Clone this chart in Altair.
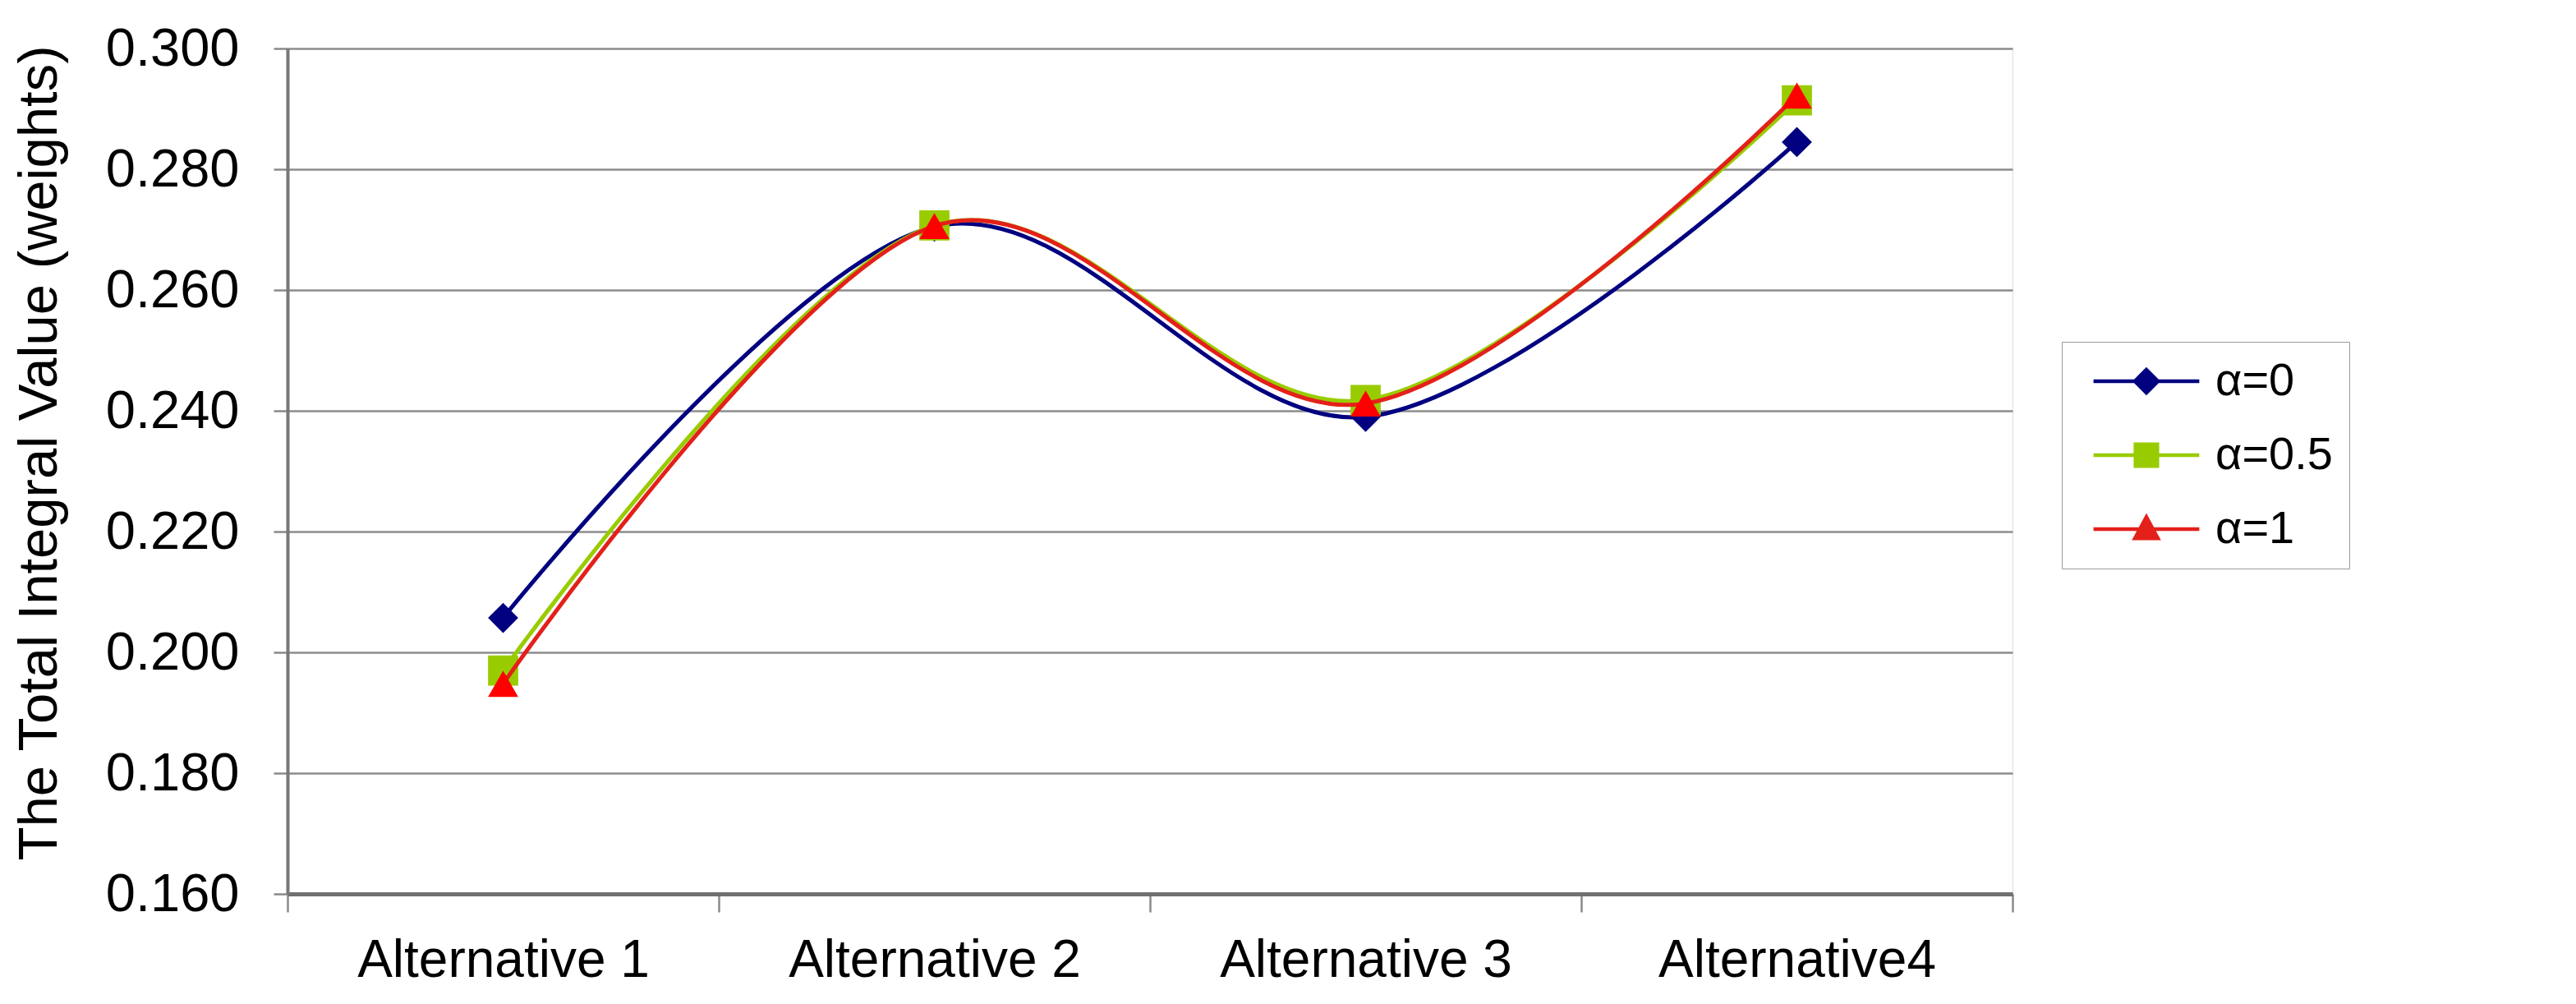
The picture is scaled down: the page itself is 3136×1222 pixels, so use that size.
import altair as alt
import pandas as pd

categories = ["Alternative 1", "Alternative 2", "Alternative 3", "Alternative4"]
series_names = ["α=0", "α=0.5", "α=1"]
alpha_0 = [0.2057, 0.2705, 0.2390, 0.2845]
alpha_05 = [0.1970, 0.2707, 0.2418, 0.2914]
alpha_1 = [0.1948, 0.2706, 0.2412, 0.2922]
y_ticks = [0.16, 0.18, 0.20, 0.22, 0.24, 0.26, 0.28, 0.30]

marker_colors = ["#000080", "#99CC00", "#FF0000"]
line_colors = ["#000080", "#99CC00", "#E3201A"]
shapes = ["diamond", "square", "triangle-up"]
legend_paths = [
    "M-4.6,0H4.6M0,-1L1,0L0,1L-1,0Z",
    "M-4.6,0H4.6M-0.95,-0.95H0.95V0.95H-0.95Z",
    "M-4.6,0H4.6M0,-1.05L1,0.8L-1,0.8Z",
]

FONT = "Liberation Sans"

x_enc = alt.X(
    "alt:N",
    sort=categories,
    scale=alt.Scale(domain=categories, paddingInner=0, paddingOuter=0),
    axis=alt.Axis(
        title=None,
        tickBand="extent",
        labelAngle=0,
        labelLimit=0,
        labelFont=FONT,
        labelFontSize=64,
        labelColor="#000000",
        labelPadding=27,
        tickSize=22,
        tickColor="#8a8a8a",
        tickWidth=2.5,
        domainColor="#707070",
        domainWidth=5,
        grid=False,
    ),
)
y_enc = alt.Y(
    "value:Q",
    scale=alt.Scale(domain=[0.16, 0.30], nice=False, zero=False),
    axis=alt.Axis(
        values=y_ticks,
        format=".3f",
        title="The Total Integral Value (weights)",
        titleFont=FONT,
        titleFontSize=67,
        titleFontWeight="normal",
        titleColor="#000000",
        titleX=-302,
        titleY=492,
        titleAngle=-90,
        titleBaseline="middle",
        titleAlign="center",
        labelFont=FONT,
        labelFontSize=65,
        labelColor="#000000",
        labelPadding=42,
        tickSize=17,
        tickColor="#8a8a8a",
        tickWidth=2.5,
        domainColor="#777777",
        domainWidth=4,
        grid=True,
        gridColor="#8c8c8c",
        gridWidth=2.5,
    ),
)

layers = []
for name, vals, lc, mc, shp in zip(series_names, [alpha_0, alpha_05, alpha_1],
                                   line_colors, marker_colors, shapes):
    df = pd.DataFrame({"alt": categories, "value": vals, "series": name})
    line = alt.Chart(df).mark_line(
        interpolate="cardinal", color=lc, strokeWidth=5
    ).encode(x=x_enc, y=y_enc)
    pts = alt.Chart(df).mark_point(
        filled=True, shape=shp, size=1350, color=mc, opacity=1
    ).encode(x=x_enc, y=y_enc)
    layers += [line, pts]

leg_df = pd.DataFrame({
    "alt": [categories[0]] * 3,
    "value": [y_ticks[0]] * 3,
    "series": series_names,
})
legend_def = alt.Legend(
    title=None,
    orient="none",
    legendX=2160,
    legendY=357,
    strokeColor="#9a9a9a",
    fillColor="#ffffff",
    padding=20,
    labelFont=FONT,
    labelFontSize=56,
    labelColor="#000000",
    labelOffset=56,
    symbolOffset=55,
    symbolSize=784,
    symbolStrokeWidth=4.5,
    rowPadding=34,
)
legend_layer = alt.Chart(leg_df).mark_point(
    filled=True, size=784, strokeWidth=4.5, opacity=1
).encode(
    x=x_enc,
    y=y_enc,
    fill=alt.Fill("series:N", scale=alt.Scale(domain=series_names, range=line_colors), legend=legend_def),
    stroke=alt.Stroke("series:N", scale=alt.Scale(domain=series_names, range=line_colors), legend=legend_def),
    shape=alt.Shape("series:N", scale=alt.Scale(domain=series_names, range=legend_paths), legend=legend_def),
).transform_filter("datum.value < 0")

chart = alt.layer(*layers, legend_layer).properties(
    width=2100,
    height=1029,
    autosize=alt.AutoSizeParams(type="none"),
    padding={"left": 342, "top": 51, "right": 670, "bottom": 120},
).configure_view(
    stroke="#8c8c8c", strokeWidth=3
).configure(background="#ffffff")

chart.save("out.html", embed_options={"renderer": "svg", "actions": False})
